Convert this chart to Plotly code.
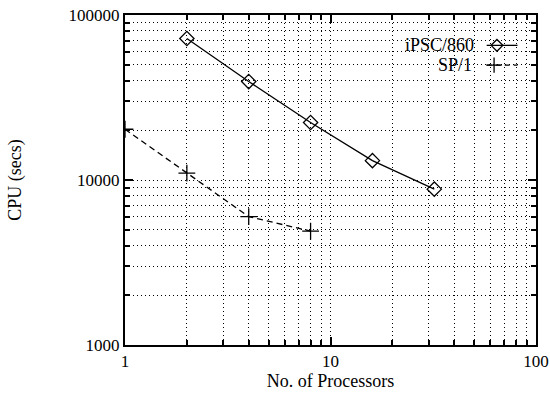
import plotly.graph_objects as go

processors_ipsc = [2, 4, 8, 16, 32]
cpu_ipsc = [72000, 39500, 22300, 13100, 8800]
processors_sp1 = [1, 2, 4, 8]
cpu_sp1 = [20300, 11000, 6000, 4900]

series_names = ["iPSC/860", "SP/1"]
x_major = [1, 10, 100]
x_minor = [2, 3, 4, 5, 6, 7, 8, 9, 20, 30, 40, 50, 60, 70, 80, 90]
y_major = [1000, 10000, 100000]
y_minor = [2000, 3000, 4000, 5000, 6000, 7000, 8000, 9000,
           20000, 30000, 40000, 50000, 60000, 70000, 80000, 90000]

FONT = "Liberation Serif, Times New Roman, serif"

fig = go.Figure()
fig.add_trace(go.Scatter(
    x=processors_ipsc, y=cpu_ipsc, mode="lines+markers",
    line=dict(color="black", width=1.3),
    marker=dict(symbol="diamond-open", size=11, color="black", line=dict(width=1.3)),
    showlegend=False))
fig.add_trace(go.Scatter(
    x=processors_sp1, y=cpu_sp1, mode="lines+markers",
    line=dict(color="black", width=1.3, dash="6px,4px"),
    marker=dict(symbol="cross-thin-open", size=12, color="black", line=dict(width=1.3, color="black")),
    showlegend=False))

# legend samples on an overlay axis
fig.add_trace(go.Scatter(
    x=[0.88, 0.955], y=[0.908, 0.908], mode="lines", xaxis="x2", yaxis="y2",
    line=dict(color="black", width=1.3), showlegend=False, hoverinfo="skip"))
fig.add_trace(go.Scatter(
    x=[0.905], y=[0.908], mode="markers", xaxis="x2", yaxis="y2",
    marker=dict(symbol="diamond-open", size=9, color="black", line=dict(width=1.3)),
    showlegend=False, hoverinfo="skip"))
fig.add_trace(go.Scatter(
    x=[0.88, 0.955], y=[0.848, 0.848], mode="lines", xaxis="x2", yaxis="y2",
    line=dict(color="black", width=1.3, dash="5px,4px"), showlegend=False, hoverinfo="skip"))
fig.add_trace(go.Scatter(
    x=[0.898], y=[0.848], mode="markers", xaxis="x2", yaxis="y2",
    marker=dict(symbol="cross-thin-open", size=11, color="black", line=dict(width=1.3, color="black")),
    showlegend=False, hoverinfo="skip"))

fig.add_annotation(x=0.855, y=0.908, xref="x2", yref="y2", text=series_names[0],
                   showarrow=False, xanchor="right", yanchor="middle",
                   font=dict(family=FONT, size=18, color="black"))
fig.add_annotation(x=0.85, y=0.848, xref="x2", yref="y2", text=series_names[1],
                   showarrow=False, xanchor="right", yanchor="middle",
                   font=dict(family=FONT, size=18, color="black"))

grid = dict(showgrid=True, gridcolor="black", gridwidth=1, griddash="1px,3px")
fig.update_layout(
    width=550, height=394,
    margin=dict(l=125, r=14, t=15, b=49, autoexpand=False),
    paper_bgcolor="white", plot_bgcolor="white",
    font=dict(family=FONT, size=17, color="black"),
    xaxis=dict(
        type="log", range=[0, 2], tickvals=x_major, ticktext=[str(v) for v in x_major],
        ticks="inside", ticklen=8, tickwidth=1.5, tickcolor="black", automargin=False,
        tickfont=dict(size=17),
        showline=True, linecolor="black", linewidth=2, mirror="allticks",
        title=dict(text="No. of Processors", standoff=3, font=dict(size=18)),
        minor=dict(tickvals=x_minor, ticks="inside", ticklen=5, tickwidth=1.5,
                   tickcolor="black", **grid),
        zeroline=False, **grid),
    yaxis=dict(
        type="log", range=[3, 5], tickvals=y_major, ticktext=[str(v) for v in y_major],
        ticks="inside", ticklen=8, tickwidth=1.5, tickcolor="black", automargin=False,
        tickfont=dict(size=17),
        showline=True, linecolor="black", linewidth=2, mirror="allticks",
        title=dict(text="CPU (secs)", standoff=42, font=dict(size=18)),
        minor=dict(tickvals=y_minor, ticks="inside", ticklen=5, tickwidth=1.5,
                   tickcolor="black", **grid),
        zeroline=False, **grid),
    xaxis2=dict(overlaying="x", range=[0, 1], visible=False, showgrid=False),
    yaxis2=dict(overlaying="y", range=[0, 1], visible=False, showgrid=False),
)

fig.write_html("out.html")
